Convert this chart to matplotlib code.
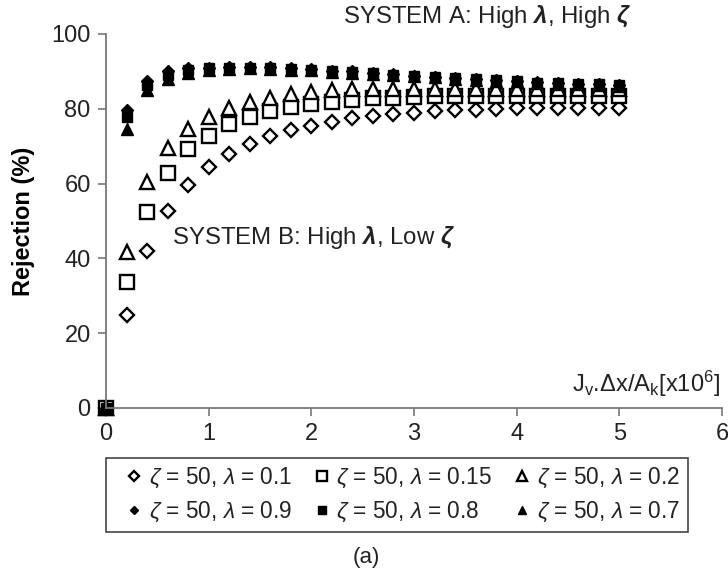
import matplotlib
matplotlib.use('Agg')
import matplotlib.pyplot as plt

plt.rcParams['font.family'] = ['Liberation Sans', 'DejaVu Sans']
plt.rcParams['mathtext.fontset'] = 'custom'
plt.rcParams['mathtext.rm'] = 'Liberation Sans'
plt.rcParams['mathtext.it'] = 'Liberation Sans:italic'
plt.rcParams['mathtext.bf'] = 'Liberation Sans:bold:italic'

# Jv.dx/Ak [x10^6]
x = [0.0, 0.2, 0.4, 0.6, 0.8, 1.0, 1.2, 1.4, 1.6, 1.8, 2.0, 2.2, 2.4,
     2.6, 2.8, 3.0, 3.2, 3.4, 3.6, 3.8, 4.0, 4.2, 4.4, 4.6, 4.8, 5.0]

# rejection (%) for zeta = 50 and various lambda
rej_l01 = [0, 25.0, 42.0, 52.7, 59.6, 64.5, 67.9, 70.6, 72.7, 74.3, 75.4, 76.6, 77.5,
           78.1, 78.6, 79.0, 79.3, 79.6, 79.8, 80.0, 80.1, 80.1, 80.2, 80.2, 80.2, 80.2]
rej_l015 = [0, 33.7, 52.3, 62.8, 69.2, 72.7, 76.0, 77.8, 79.3, 80.4, 81.3, 81.9, 82.4,
            82.8, 83.0, 83.2, 83.3, 83.4, 83.4, 83.5, 83.5, 83.5, 83.5, 83.5, 83.5, 83.5]
rej_l02 = [0, 41.8, 60.3, 69.6, 74.7, 77.9, 80.2, 81.9, 83.0, 84.0, 84.6, 85.0, 85.2,
           85.3, 85.4, 85.4, 85.4, 85.4, 85.4, 85.4, 85.4, 85.4, 85.4, 85.4, 85.4, 85.4]
rej_l09 = [0, 79.7, 87.5, 90.0, 90.9, 91.0, 91.3, 91.3, 91.1, 90.9, 90.7, 90.2, 90.0,
           89.7, 89.2, 88.9, 88.6, 88.3, 88.0, 87.7, 87.5, 87.1, 86.9, 86.7, 86.5, 86.4]
rej_l08 = [0, 77.9, 86.4, 89.1, 90.4, 90.9, 91.0, 91.0, 90.8, 90.6, 90.5, 90.0, 89.9,
           89.6, 89.1, 88.9, 88.6, 88.2, 87.9, 87.6, 87.5, 87.0, 86.9, 86.7, 86.5, 86.4]
rej_l07 = [0, 74.5, 85.0, 87.9, 89.5, 90.5, 90.7, 90.8, 90.6, 90.4, 90.3, 89.8, 89.7,
           89.4, 89.0, 88.7, 88.4, 88.1, 87.8, 87.5, 87.3, 86.9, 86.7, 86.5, 86.3, 86.2]

fig = plt.figure(figsize=(7.28, 5.76), dpi=100)
ax = fig.add_axes([106 / 728, 1 - 408 / 576, (722 - 106) / 728, (408 - 34) / 576])

lab = r'$\zeta$ = 50, $\lambda$ = '
kw = dict(ls='none', clip_on=False)
h1, = ax.plot(x, rej_l01, 'D', ms=7.5, mfc='white', mec='black', mew=1.7, label=lab + '0.1', **kw)
h2, = ax.plot(x, rej_l015, 's', ms=9.5, mfc='white', mec='black', mew=1.7, label=lab + '0.15', **kw)
h3, = ax.plot(x, rej_l02, '^', ms=9.5, mfc='white', mec='black', mew=1.7, label=lab + '0.2', **kw)
h4, = ax.plot(x, rej_l09, 'D', ms=6, color='black', label=lab + '0.9', **kw)
h5, = ax.plot(x, rej_l08, 's', ms=7.5, color='black', label=lab + '0.8', **kw)
h6, = ax.plot(x, rej_l07, '^', ms=8, color='black', label=lab + '0.7', **kw)

ax.set_xlim(0, 6)
ax.set_ylim(0, 100)
ax.set_xticks(range(0, 7))
ax.set_yticks(range(0, 101, 20))
for s in ['top', 'right']:
    ax.spines[s].set_visible(False)
for s in ['left', 'bottom']:
    ax.spines[s].set_color('#777777')
    ax.spines[s].set_linewidth(1.3)
ax.tick_params(colors='#777777', labelcolor='#222222', labelsize=17, length=6, width=1.2, pad=5)
ax.set_ylabel('Rejection (%)', fontsize=17, fontweight='bold', labelpad=12)
ax.patch.set_alpha(0)

ax.text(0.997, 0.025, r'J$_\mathrm{v}$.$\Delta$x/A$_\mathrm{k}$[x10$^6$]', transform=ax.transAxes,
        ha='right', va='bottom', fontsize=17, color='#222222')

fig.text(343 / 728, 1 - 17 / 576, r'SYSTEM A: High $\mathbf{\lambda}$, High $\mathbf{\zeta}$',
         ha='left', va='center', fontsize=17.3, color='#222222')
ax.text(0.64, 45.7, r'SYSTEM B: High $\mathbf{\lambda}$, Low $\mathbf{\zeta}$',
        ha='left', va='center', fontsize=17.3, color='#222222')

leg = fig.legend(handles=[h1, h4, h2, h5, h3, h6], ncol=3, loc='upper left',
                 bbox_to_anchor=(106 / 728, 1 - 458 / 576), fontsize=16.3, markerscale=0.7,
                 frameon=True, fancybox=False, framealpha=1, edgecolor='#444444',
                 handlelength=1.8, handletextpad=-0.25, columnspacing=0.4,
                 labelspacing=0.42, borderpad=0.35, borderaxespad=0)
leg.get_frame().set_linewidth(1.2)
for t in leg.get_texts():
    t.set_color('#222222')

fig.text(366 / 728, 1 - 557 / 576, '(a)', ha='center', va='center', fontsize=16, color='#222222')

fig.savefig('out.png', dpi=100)
